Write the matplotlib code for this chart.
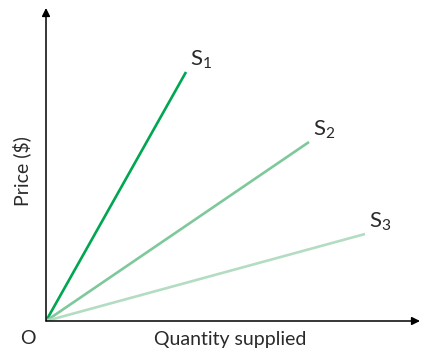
import matplotlib.pyplot as plt

# supply curves: straight lines from the origin to these end points
curve_names = ["$S_1$", "$S_2$", "$S_3$"]
end_quantity = [140, 263, 319]
end_price = [249, 179, 87]
curve_colors = ["#00a651", "#7ec89b", "#b3ddc2"]

plt.rcParams['font.family'] = ['Lato', 'DejaVu Sans']
plt.rcParams['mathtext.fontset'] = 'custom'
plt.rcParams['mathtext.rm'] = 'Lato'
plt.rcParams['mathtext.it'] = 'Lato'

fig = plt.figure(figsize=(4.22, 3.54), dpi=100)
ax = fig.add_axes([46 / 422, 33 / 354, 374 / 422, 313 / 354])
ax.set_xlim(0, 374)
ax.set_ylim(0, 313)
ax.axis('off')

text_color = "#2a2a2a"

for name, q, p, c in zip(curve_names, end_quantity, end_price, curve_colors):
    ax.plot([0, q], [0, p], color=c, lw=1.9, solid_capstyle='butt')
    ax.text(q + 4, p + 1, name, color=text_color, fontsize=16,
            ha='left', va='bottom')

arrow = dict(arrowstyle='-|>', color='black', lw=1.1, mutation_scale=12,
             shrinkA=0, shrinkB=0)
ax.annotate('', xy=(374, 0), xytext=(0, 0), arrowprops=arrow, annotation_clip=False)
ax.annotate('', xy=(0, 313), xytext=(0, 0), arrowprops=arrow, annotation_clip=False)

fig.text(230 / 422, 1 - 340 / 354, "Quantity supplied", ha='center', va='center',
         fontsize=14, color=text_color)
fig.text(22 / 422, 1 - 171 / 354, "Price ($)", ha='center', va='center',
         rotation=90, fontsize=14, color=text_color)
fig.text(28 / 422, 1 - 338 / 354, "O", ha='center', va='center',
         fontsize=14, color=text_color)

fig.savefig('out.png', dpi=100)
